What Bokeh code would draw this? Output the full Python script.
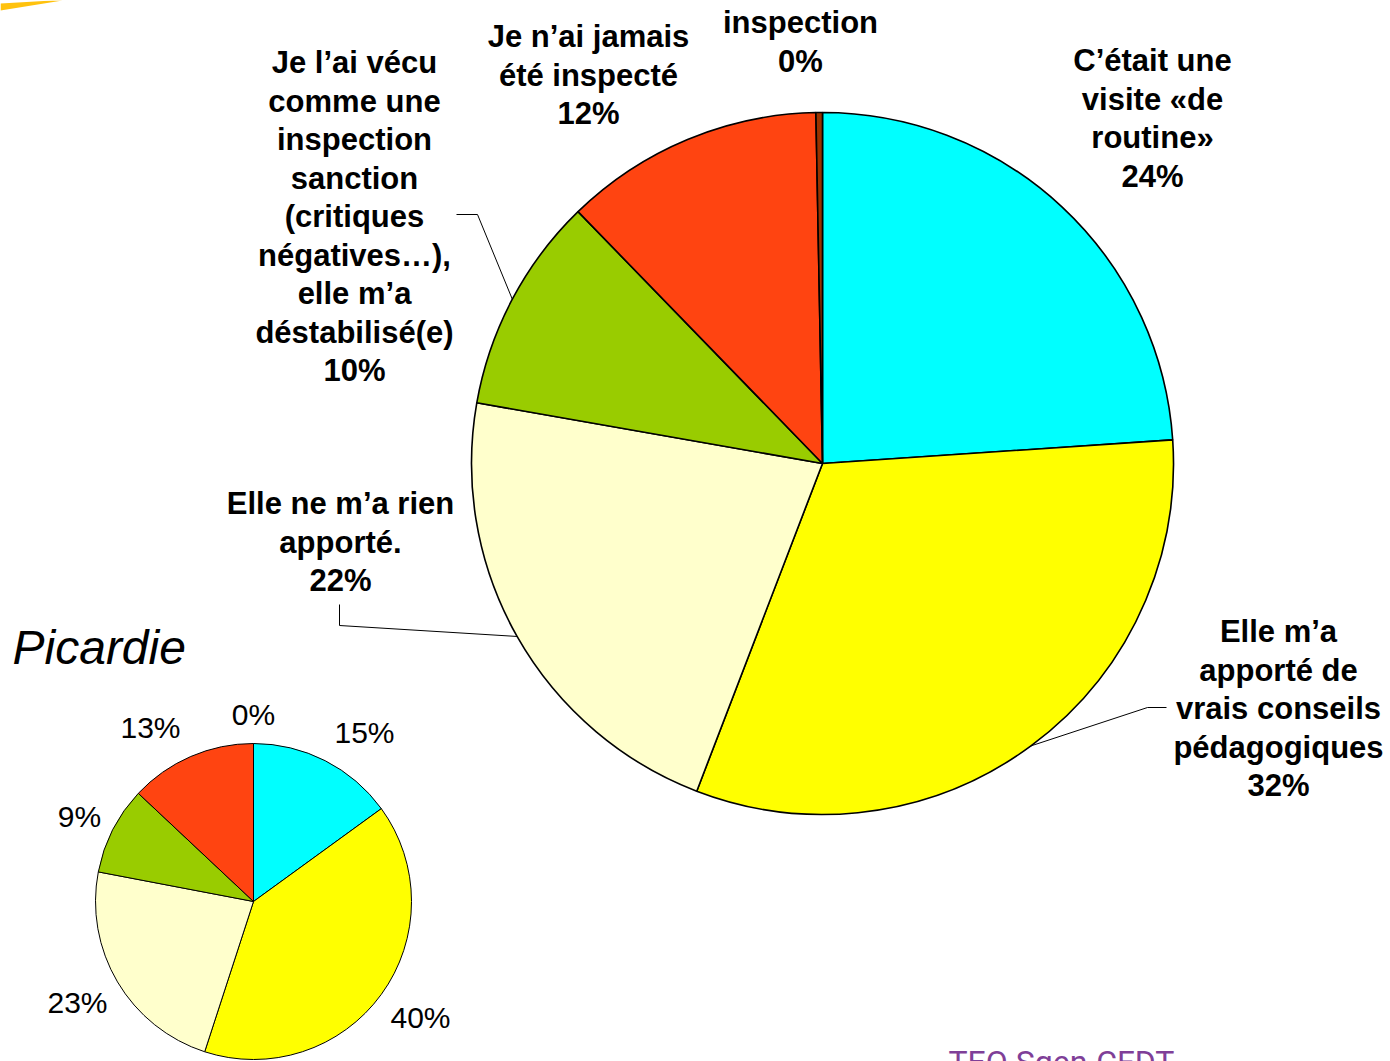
import math

from bokeh.core.properties import value
from bokeh.embed import file_html
from bokeh.models import ColumnDataSource, Range1d
from bokeh.plotting import figure
from bokeh.resources import INLINE

W, H = 1390, 1061

# Answers, in clockwise order from 12 o'clock
categories = [
    "C'était une visite «de routine»",
    "Elle m'a apporté de vrais conseils pédagogiques",
    "Elle ne m'a rien apporté.",
    "Je l'ai vécu comme une inspection sanction",
    "Je n'ai jamais été inspecté",
    "inspection",
]
colors = ["#00FFFF", "#FFFF00", "#FFFFCC", "#99CC00", "#FF4411", "#993300"]

# Whole survey (main pie) and Picardie (small pie), in percent
national_values = [24, 32, 22, 10, 12, 0.3]
picardie_values = [15, 40, 23, 9, 13, 0]

# Label lines of the main pie (percentage appended below)
national_label_lines = [
    ["C\u2019était une", "visite «de", "routine»"],
    ["Elle m\u2019a", "apporté de", "vrais conseils", "pédagogiques"],
    ["Elle ne m\u2019a rien", "apporté."],
    ["Je l\u2019ai vécu", "comme une", "inspection", "sanction", "(critiques",
     "négatives\u2026),", "elle m\u2019a", "déstabilisé(e)"],
    ["Je n\u2019ai jamais", "été inspecté"],
    ["inspection"],
]


def sy(y):
    """Convert a top-down pixel row into the figure's y coordinate."""
    return H - y


def fractions(vals):
    total = float(sum(vals))
    cum, out = 0.0, []
    for v in vals:
        f0 = cum / total
        cum += v
        out.append((f0, cum / total))
    return out


def pie(p, vals, cx, cy, r, lw):
    fr = fractions(vals)
    keep = [i for i, v in enumerate(vals) if v > 0]
    src = ColumnDataSource(dict(
        start=[math.pi / 2 - 2 * math.pi * fr[i][0] for i in keep],
        end=[math.pi / 2 - 2 * math.pi * fr[i][1] for i in keep],
        color=[colors[i] for i in keep],
    ))
    p.wedge(x=cx, y=sy(cy), radius=r, start_angle="start", end_angle="end",
            direction="clock", fill_color="color", line_color="black",
            line_width=lw, source=src)
    return fr


def edge_point(cx, cy, r, f):
    a = 2 * math.pi * f
    return cx + r * math.sin(a), sy(cy) + r * math.cos(a)


def pct(vals):
    total = float(sum(vals))
    return [f"{round(v / total * 100)}%" for v in vals]


p = figure(width=W, height=H, x_range=Range1d(0, W), y_range=Range1d(0, H),
           x_axis_type=None, y_axis_type=None, toolbar_location=None,
           output_backend="svg", min_border=0)
p.grid.visible = False
p.outline_line_color = None
p.background_fill_color = "white"
p.border_fill_color = "white"

# Decorative swoosh in the corner
p.patch(x=[0, 52, 62, 0], y=[sy(3), sy(0), sy(0), sy(10)],
        fill_color="#FFC20E", line_color=None)

# ---- main pie ----
CX, CY, R = 822, 463, 351
fr_main = pie(p, national_values, CX, CY, R, 1.6)
main_pct = pct(national_values)

label_pos = [(1152, 60), (1278, 631), (340, 503), (354, 62), (588, 36), (800, 22)]
LINE_H = 38.5
tx, ty, tt = [], [], []
for lines, pc, (lx, ly) in zip(national_label_lines, main_pct, label_pos):
    for i, s in enumerate(lines + [pc]):
        tx.append(lx)
        ty.append(sy(ly + i * LINE_H))
        tt.append(s)
p.text(x=tx, y=ty, text=tt, text_font=value("Liberation Sans"),
       text_font_style="bold", text_font_size="31px", text_align="center",
       text_baseline="middle", text_color="black")

# Leader lines: elbow points, ending on the slice's mid-angle at the rim
leaders = {1: [(1166, 707), (1147, 707)],
           2: [(339, 604), (339, 625)],
           3: [(456, 214), (477, 214)]}
for idx, pts in leaders.items():
    f0, f1 = fr_main[idx]
    ex, ey = edge_point(CX, CY, R, (f0 + f1) / 2)
    p.line(x=[q[0] for q in pts] + [ex], y=[sy(q[1]) for q in pts] + [ey],
           line_color="black", line_width=1)

# ---- Picardie pie ----
p.text(x=[12], y=[sy(647)], text=["Picardie"], text_font=value("Liberation Sans"),
       text_font_style="italic", text_font_size="48px", text_align="left",
       text_baseline="middle", text_color="black")

SX, SY, SR = 253, 901, 158
pie(p, picardie_values, SX, SY, SR, 1)
small_pos = [(364, 732), (420, 1017), (77, 1002), (79, 816), (150, 727), (253, 714)]
p.text(x=[q[0] for q in small_pos], y=[sy(q[1]) for q in small_pos],
       text=pct(picardie_values), text_font=value("Liberation Sans"),
       text_font_size="30px", text_align="center", text_baseline="middle",
       text_color="black")

# Footer credit
p.text(x=[948], y=[sy(1061)], text=["TEO Sgen-CFDT"], text_font=value("Roboto"),
       text_font_size="32px", text_align="left", text_baseline="alphabetic",
       text_color="#7F3F98")

open("out.html", "w").write(file_html(p, INLINE))
